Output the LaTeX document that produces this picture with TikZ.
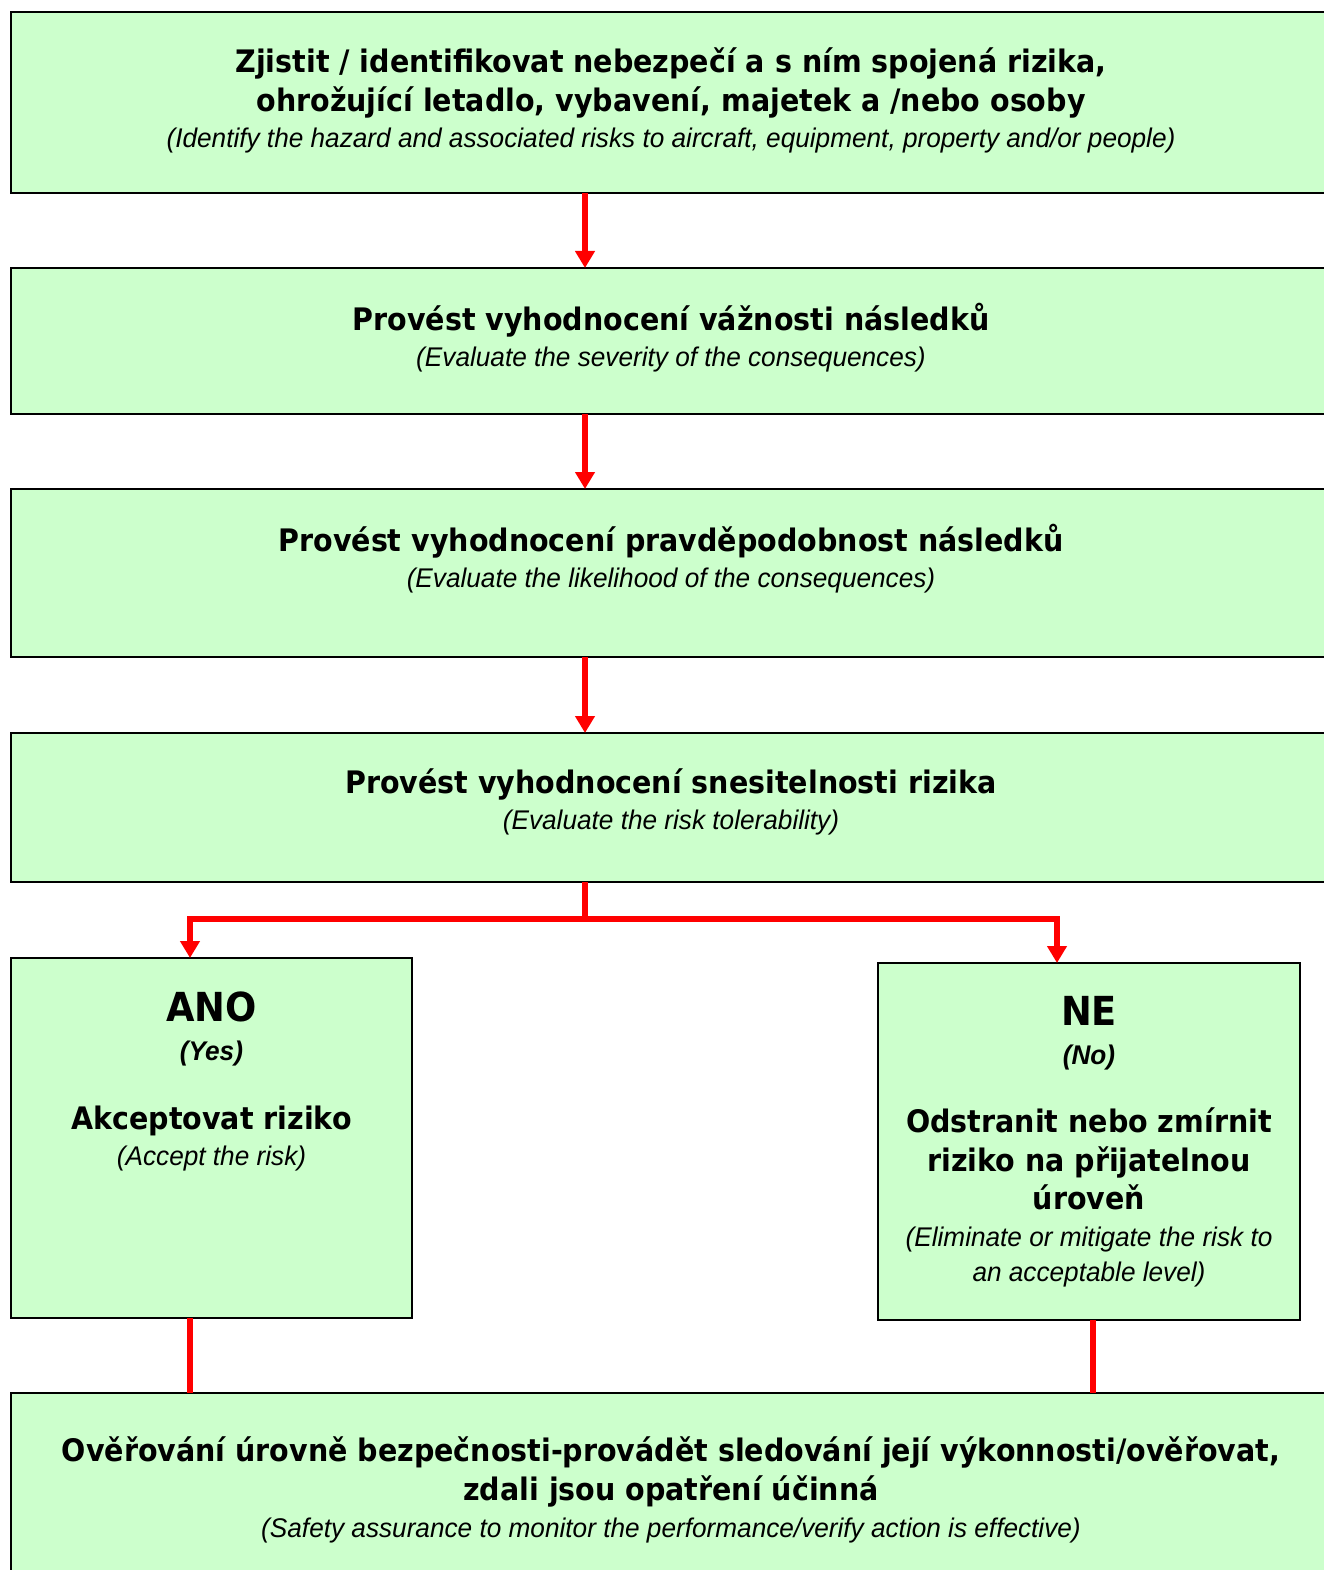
\documentclass[tikz,border=0pt]{standalone}
\usepackage{fontspec}
\setmainfont{DejaVu Sans}
\newfontfamily\czfont[FakeStretch=0.92]{DejaVu Sans}
\newfontfamily\enfont[FakeStretch=0.97]{Liberation Sans}
\usepackage{xcolor}
\definecolor{BoxGreen}{RGB}{204,255,204}
\definecolor{FlowRed}{RGB}{255,0,0}
\usepackage{tikz}
\usetikzlibrary{arrows.meta,positioning}
\newcommand{\en}[1]{{\enfont\mdseries\itshape\fontsize{27}{38}\selectfont #1}}
\newcommand{\answer}[1]{{\fontsize{40}{44}\selectfont #1}}

\begin{document}
\begin{tikzpicture}[x=1pt,y=-1pt,
  stepbox/.style={draw=black,line width=2.8pt,fill=BoxGreen,inner sep=0pt,outer sep=0pt},
  msg/.style={align=center,inner sep=0pt,font=\czfont\bfseries\fontsize{31}{39}\selectfont},
  flow/.style={draw=FlowRed,line width=5.5pt,-{Triangle[length=17pt,width=19pt]}},
  link/.style={draw=FlowRed,line width=5.5pt}]
  \useasboundingbox (0,0) rectangle (1323,1570);
  % boxes
  \node[stepbox,minimum width=1320pt,minimum height=181pt] (hazard) at (671,102.5) {};
  \node[stepbox,minimum width=1320pt,minimum height=146pt] (severity) at (671,341) {};
  \node[stepbox,minimum width=1320pt,minimum height=168pt] (likely) at (671,573) {};
  \node[stepbox,minimum width=1320pt,minimum height=149pt] (tolerable) at (671,807.5) {};
  \node[stepbox,minimum width=401pt,minimum height=360pt] (accept) at (211.5,1138) {};
  \node[stepbox,minimum width=422pt,minimum height=357pt] (mitigate) at (1089,1141.5) {};
  \node[stepbox,minimum width=1320pt,minimum height=227pt] (assure) at (671,1506.5) {};
  % texts
  \node[msg] (hazardtxt) at (671,100.5) {Zjistit / identifikovat nebezpečí a s ním spojená rizika,\\
    ohrožující letadlo, vybavení, majetek a /nebo osoby\\[-3pt]
    \en{(Identify the hazard and associated risks to aircraft, equipment, property and/or people)}};
  \node[msg] (severitytxt) at (671,338) {Provést vyhodnocení vážnosti následků\\[-3pt]
    \en{(Evaluate the severity of the consequences)}};
  \node[msg] (likelytxt) at (671,559) {Provést vyhodnocení pravděpodobnost následků\\[-3pt]
    \en{(Evaluate the likelihood of the consequences)}};
  \node[msg] (tolerabletxt) at (671,802) {Provést vyhodnocení snesitelnosti rizika\\[-3pt]
    \en{(Evaluate the risk tolerability)}};
  \node[msg] (accepttxt) at (211.5,1081) {\answer{ANO}\\[0pt]
    {\enfont\bfseries\itshape\fontsize{27}{38}\selectfont(Yes)}\\[30pt]
    Akceptovat riziko\\[-3pt]
    \en{(Accept the risk)}};
  \node[msg] (mitigatetxt) at (1089,1142) {\answer{NE}\\[0pt]
    {\enfont\bfseries\itshape\fontsize{27}{38}\selectfont(No)}\\[29pt]
    Odstranit nebo zmírnit\\
    riziko na přijatelnou\\[-1pt]
    úroveň\\[-2pt]
    \en{(Eliminate or mitigate the risk to}\\[-4pt]
    \en{an acceptable level)}};
  \node[msg] (assuretxt) at (671,1489.5) {Ověřování úrovně bezpečnosti-provádět sledování její výkonnosti/ověřovat,\\
    zdali jsou opatření účinná\\[-2pt]
    \en{(Safety assurance to monitor the performance/verify action is effective)}};
  % connectors
  \draw[flow] ([xshift=-86pt]hazard.south) -- ([xshift=-86pt]severity.north);
  \draw[flow] ([xshift=-86pt]severity.south) -- ([xshift=-86pt]likely.north);
  \draw[flow] ([xshift=-86pt]likely.south) -- ([xshift=-86pt]tolerable.north);
  \draw[flow] ([xshift=-86pt]tolerable.south) -- ++(0,37) -| ([xshift=-21.5pt]accept.north);
  \draw[flow] ([xshift=-86pt]tolerable.south) -- ++(0,37) -| ([xshift=-32pt]mitigate.north);
  \draw[link] ([xshift=-21.5pt]accept.south) -- ([xshift=-21.5pt]accept.south |- assure.north);
  \draw[link] ([xshift=4pt]mitigate.south) -- ([xshift=4pt]mitigate.south |- assure.north);
\end{tikzpicture}
\end{document}
